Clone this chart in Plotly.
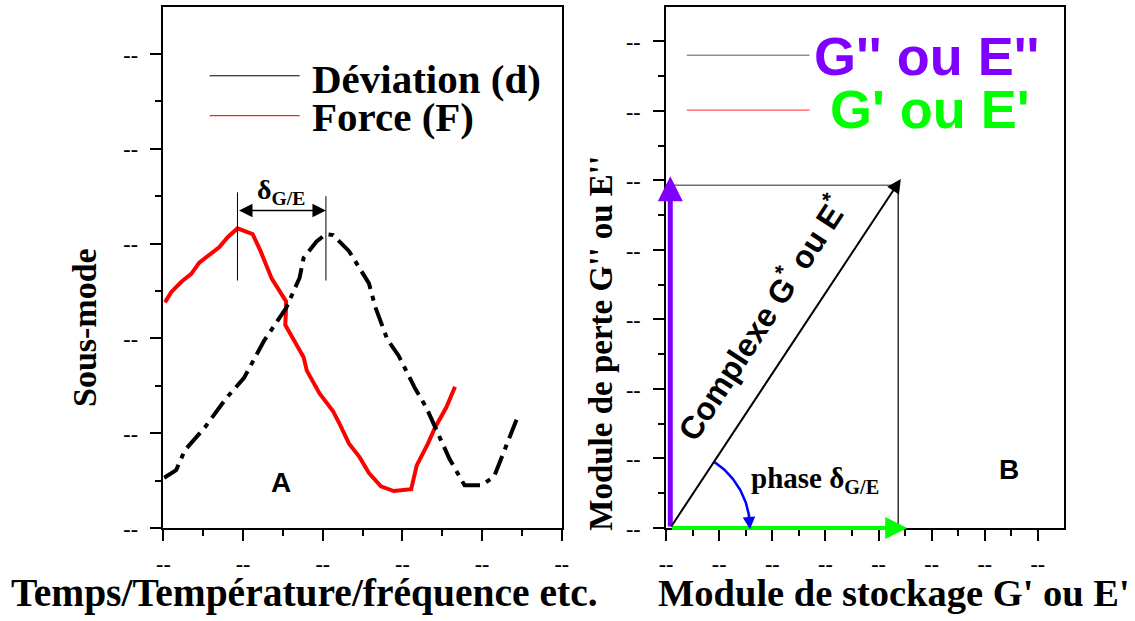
import numpy as np
import plotly.graph_objects as go

# ---------------- Panel A data (Sous-mode vs Temps) ----------------
force_x = [0.02, 0.10, 0.23, 0.35, 0.45, 0.70, 0.81, 0.93, 1.12, 1.22, 1.36, 1.47, 1.54, 1.54,
           1.53, 1.76, 1.80, 1.96, 2.13, 2.21, 2.33, 2.46, 2.58, 2.73, 2.89, 3.11, 3.18, 3.32,
           3.41, 3.55, 3.66]
force_y = [2.38, 2.49, 2.60, 2.68, 2.80, 2.96, 3.07, 3.16, 3.10, 2.92, 2.63, 2.49, 2.39, 2.33,
           2.14, 1.80, 1.66, 1.42, 1.23, 1.10, 0.89, 0.75, 0.58, 0.44, 0.39, 0.41, 0.66, 0.89,
           1.06, 1.27, 1.49]
dev_x = [0.01, 0.16, 0.27, 0.52, 0.79, 1.01, 1.26, 1.54, 1.71, 1.76, 1.92, 2.04, 2.13, 2.33,
         2.58, 2.66, 2.81, 2.95, 3.16, 3.30, 3.45, 3.59, 3.78, 3.99, 4.15, 4.32, 4.44]
dev_y = [0.53, 0.61, 0.82, 1.06, 1.37, 1.58, 1.97, 2.32, 2.64, 2.85, 3.02, 3.10, 3.09, 2.92,
         2.58, 2.33, 1.99, 1.82, 1.47, 1.27, 0.99, 0.73, 0.45, 0.45, 0.54, 0.92, 1.16]
force_peak_x = 0.93
dev_peak_x = 2.04
delta_arrow_y = 3.35

a_xticks = [0, 1, 2, 3, 4, 5]
a_xminor = [0.5, 1.5, 2.5, 3.5, 4.5]
a_yticks = [0, 1, 2, 3, 4, 5]
a_yminor = [0.5, 1.5, 2.5, 3.5, 4.5]

# ---------------- Panel B data (vector diagram) ----------------
vec_origin = 0.08
loss_modulus = 5.06       # G'' / E''
storage_modulus = 4.54    # G' / E'
complex_tip_x = 4.42
complex_tip_y = 5.02
rect_x = 4.37
rect_y = 4.93
phase_start_deg = 57
phase_end_deg = 3
arc_rx = 1.50
arc_ry = 1.14

b_ticks = [0, 1, 2, 3, 4, 5, 6, 7]
b_minor = [0.5, 1.5, 2.5, 3.5, 4.5, 5.5, 6.5]
tick_text = "--"

SERIF = "Liberation Serif"
SANS = "Liberation Sans"
PURPLE = "#7F00FF"
GREEN = "#00FF00"

fig = go.Figure()

fig.add_trace(go.Scatter(x=force_x, y=force_y, mode="lines", name="Force (F)",
                         line=dict(color="#FF0000", width=4), xaxis="x", yaxis="y"))
fig.add_trace(go.Scatter(x=dev_x, y=dev_y, mode="lines", name="Déviation (d)",
                         line=dict(color="black", width=4, dash="20px,7px,5px,7px"),
                         xaxis="x", yaxis="y"))

# phase arc
theta = np.radians(np.linspace(phase_start_deg, phase_end_deg, 40))
fig.add_trace(go.Scatter(x=vec_origin + arc_rx * np.cos(theta), y=arc_ry * np.sin(theta),
                         mode="lines", line=dict(color="#0000FF", width=2.5),
                         xaxis="x2", yaxis="y2"))


def axis_common(ticks, minor, rng, domain, anchor, standoff):
    return dict(range=rng, domain=domain, anchor=anchor, showline=True, linecolor="black",
                linewidth=2, mirror=True, showgrid=False, zeroline=False,
                tickmode="array", tickvals=ticks, ticktext=[tick_text] * len(ticks),
                ticks="outside", ticklen=11, tickwidth=2, tickcolor="black",
                ticklabelstandoff=standoff,
                tickfont=dict(family=SERIF, size=22, color="black", weight="bold"),
                minor=dict(tickmode="array", tickvals=minor, ticks="outside", ticklen=6,
                           tickwidth=2, tickcolor="black"),
                fixedrange=True)


ydom = [0.1316, 0.9892]
fig.update_layout(
    width=1135, height=621, autosize=False, margin=dict(l=0, r=0, t=0, b=0, pad=0),
    paper_bgcolor="white", plot_bgcolor="white", showlegend=False,
    xaxis=axis_common(a_xticks, a_xminor, [0, 5], [0.1395, 0.4949], "y", 4),
    yaxis=axis_common(a_yticks, a_yminor, [0, 5.5], ydom, "x", 8),
    xaxis2=axis_common(b_ticks, b_minor, [0, 7.5], [0.5879, 0.9433], "y2", 4),
    yaxis2=axis_common(b_ticks, b_minor, [0, 7.5], ydom, "x2", 8),
)

shapes = []
# Panel A legend lines
shapes.append(dict(type="line", xref="x", yref="y", x0=0.58, x1=1.71, y0=4.77, y1=4.77,
                   line=dict(color="black", width=1)))
shapes.append(dict(type="line", xref="x", yref="y", x0=0.58, x1=1.71, y0=4.35, y1=4.35,
                   line=dict(color="#FF2020", width=1.2)))
# peak markers
shapes.append(dict(type="line", xref="x", yref="y", x0=force_peak_x, x1=force_peak_x,
                   y0=2.61, y1=3.54, line=dict(color="black", width=1)))
shapes.append(dict(type="line", xref="x", yref="y", x0=dev_peak_x, x1=dev_peak_x,
                   y0=2.61, y1=3.50, line=dict(color="black", width=1)))
# Panel B legend lines
shapes.append(dict(type="line", xref="x2", yref="y2", x0=0.39, x1=2.70, y0=6.80, y1=6.80,
                   line=dict(color="#909090", width=1.5)))
shapes.append(dict(type="line", xref="x2", yref="y2", x0=0.39, x1=2.70, y0=6.01, y1=6.01,
                   line=dict(color="#FF5050", width=1.2)))
# projection rectangle
shapes.append(dict(type="line", xref="x2", yref="y2", x0=0, x1=rect_x, y0=rect_y, y1=rect_y,
                   line=dict(color="#707070", width=1.5)))
shapes.append(dict(type="line", xref="x2", yref="y2", x0=rect_x, x1=rect_x, y0=0, y1=rect_y,
                   line=dict(color="black", width=1.2)))
fig.update_layout(shapes=shapes)

ann = []


def arrow(x0, y0, x1, y1, color, width, size, xr="x2", yr="y2", side="end"):
    ann.append(dict(xref=xr, yref=yr, axref=xr, ayref=yr, x=x1, y=y1, ax=x0, ay=y0,
                    text="", showarrow=True, arrowhead=2, arrowsize=size, arrowwidth=width,
                    arrowcolor=color, standoff=0, startstandoff=0, arrowside=side,
                    startarrowhead=2, startarrowsize=size))


def label(x, y, text, family, size, color="black", xr="paper", yr="paper",
          xanchor="center", angle=0):
    ann.append(dict(xref=xr, yref=yr, x=x, y=y, text=text, showarrow=False,
                    xanchor=xanchor, yanchor="middle", textangle=angle,
                    font=dict(family=family, size=size, color=color, weight="bold")))


# Panel A
arrow(force_peak_x, delta_arrow_y, dev_peak_x, delta_arrow_y, "black", 1.5, 1.8,
      xr="x", yr="y", side="end+start")
label(1.48, 3.55, "δ<sub>G/E</sub>", SERIF, 28, xr="x", yr="y")
label(1.84, 4.74, "Déviation (d)", SERIF, 41, xr="x", yr="y", xanchor="left")
label(1.84, 4.33, "Force (F)", SERIF, 41, xr="x", yr="y", xanchor="left")
label(1.47, 0.475, "A", SANS, 28, xr="x", yr="y")

# Panel B vectors
arrow(vec_origin, 0, vec_origin, loss_modulus, PURPLE, 5, 1.0)
arrow(vec_origin, 0, storage_modulus, 0, GREEN, 4, 1.1)
arrow(vec_origin, 0, complex_tip_x, complex_tip_y, "black", 2, 1.4)
tb = np.radians([10, -1])
arrow(vec_origin + arc_rx * np.cos(tb[0]), arc_ry * np.sin(tb[0]),
      vec_origin + arc_rx * np.cos(tb[1]), arc_ry * np.sin(tb[1]), "#0000FF", 2.5, 1.0)
label(1.80, 3.03, "Complexe G<sup>*</sup> ou E<sup>*</sup>", SANS, 32, xr="x2", yr="y2",
      angle=-57)
label(1.57, 0.69, "phase δ<sub>G/E</sub>", SERIF, 29, xr="x2", yr="y2", xanchor="left")
label(2.74, 6.79, "G'' ou E''", SANS, 54, color=PURPLE, xr="x2", yr="y2", xanchor="left")
label(3.04, 6.02, "G' ou E'", SANS, 54, color=GREEN, xr="x2", yr="y2", xanchor="left")
label(6.46, 0.845, "B", SANS, 28, xr="x2", yr="y2")

# axis titles
label(0.0687, 0.4605, "Sous-mode", SERIF, 34, angle=-90)
label(0.5304, 0.4356, "Module de perte G'' ou E''", SERIF, 33, angle=-90)
label(0.0018, 0.024, "Temps/Température/fréquence etc.", SERIF, 39.5, xanchor="left")
label(0.5786, 0.024, "Module de stockage G' ou E'", SERIF, 38.5, xanchor="left")

fig.update_layout(annotations=ann)
fig.write_html("out.html",
               config={"responsive": False, "displayModeBar": False},
               post_script="document.body.style.margin='0';"
                           "document.body.style.overflow='hidden';")
